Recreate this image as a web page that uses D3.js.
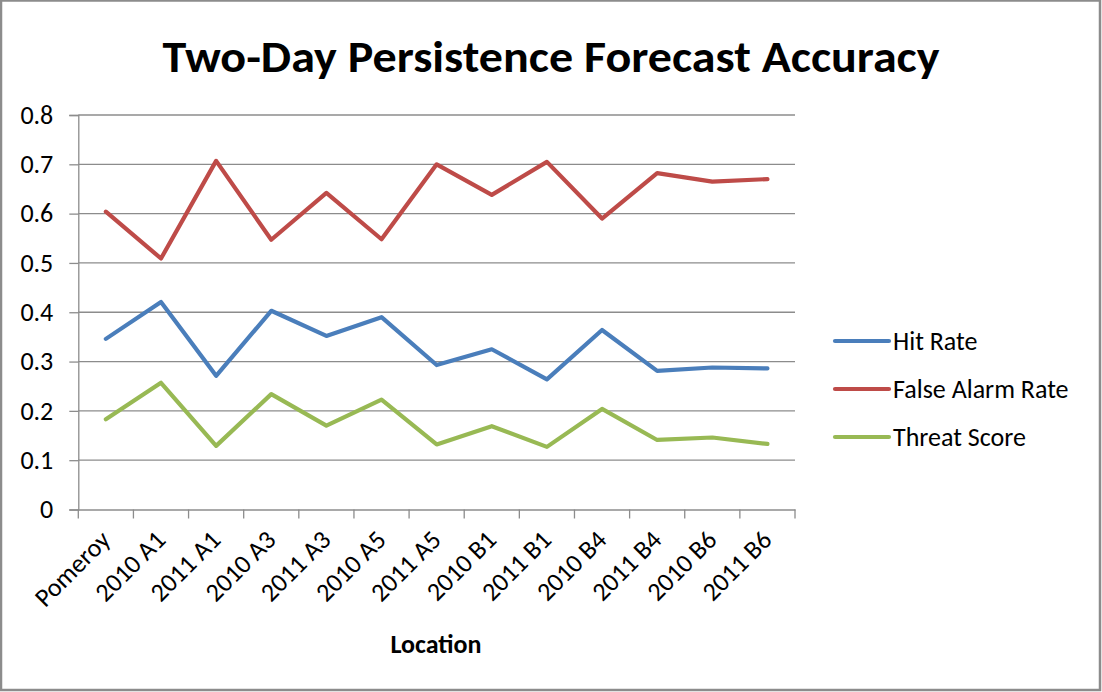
<!DOCTYPE html>
<html><head><meta charset="utf-8">
<script src="https://cdn.jsdelivr.net/npm/d3@7"></script>
<style>
body{margin:0;background:#fff;}
svg{display:block;font-family:Carlito,Calibri,"Open Sans",sans-serif;}
</style></head>
<body>
<svg id="c" width="1102" height="692"></svg>
<script>
const categories = ["Pomeroy","2010 A1","2011 A1","2010 A3","2011 A3","2010 A5","2011 A5","2010 B1","2011 B1","2010 B4","2011 B4","2010 B6","2011 B6"];
const hitRate = [0.346,0.421,0.271,0.403,0.352,0.390,0.293,0.325,0.264,0.364,0.281,0.288,0.286];
const falseAlarmRate = [0.604,0.509,0.707,0.547,0.642,0.548,0.700,0.638,0.705,0.590,0.682,0.665,0.670];
const threatScore = [0.183,0.257,0.129,0.234,0.170,0.223,0.132,0.169,0.127,0.204,0.141,0.146,0.133];
const yTicks = [0,0.1,0.2,0.3,0.4,0.5,0.6,0.7,0.8];
const seriesNames = ["Hit Rate","False Alarm Rate","Threat Score"];
const colors = ["#4A7EBB","#BE4B48","#98B954"];
const series = [hitRate, falseAlarmRate, threatScore];

const svg = d3.select("#c");
const FS = 26;
// outer border
svg.append("rect").attr("x",1).attr("y",0.5).attr("width",1099).attr("height",689.5)
  .attr("fill","#fff").attr("stroke","#8c8c8c").attr("stroke-width",2.5);

const pLeft=78.3, pRight=795, pTop=115, pBottom=509.5;
const x = d3.scaleBand().domain(categories).range([pLeft,pRight]);
const y = d3.scaleLinear().domain([0,0.8]).range([pBottom,pTop]);

// gridlines
svg.append("g").selectAll("line").data(yTicks.filter(d=>d>0)).join("line")
  .attr("x1",pLeft).attr("x2",pRight).attr("y1",d=>y(d)).attr("y2",d=>y(d))
  .attr("stroke","#8c8c8c").attr("stroke-width",1.3);

// y axis
const yAxis = svg.append("g").attr("transform",`translate(${pLeft},0)`)
  .call(d3.axisLeft(y).tickValues(yTicks).tickFormat(d=>d===0?"0":d3.format(".1f")(d)).tickSize(9).tickPadding(16));
yAxis.select(".domain").attr("stroke","#8c8c8c").attr("stroke-width",1.3);
yAxis.selectAll(".tick line").attr("stroke","#8c8c8c").attr("stroke-width",1.3);
yAxis.selectAll("text").attr("font-size",FS).attr("fill","#000").style("font-family","Carlito,Calibri,'Open Sans',sans-serif");

// x axis
const xAxis = svg.append("g").attr("transform",`translate(0,${pBottom})`)
  .call(d3.axisBottom(x).tickSize(0).tickFormat(""));
xAxis.select(".domain").attr("stroke","#8c8c8c").attr("stroke-width",1.3);
// band-boundary ticks
const bounds = categories.map(c=>x(c)).concat([pRight]);
svg.append("g").selectAll("line").data(bounds).join("line")
  .attr("x1",d=>d).attr("x2",d=>d).attr("y1",pBottom).attr("y2",pBottom+9)
  .attr("stroke","#8c8c8c").attr("stroke-width",1.3);
// rotated labels
svg.append("g").selectAll("text").data(categories).join("text")
  .attr("transform",d=>`translate(${x(d)+x.bandwidth()/2+6},${pBottom+32}) rotate(-45)`)
  .attr("text-anchor","end")
  .attr("font-size",FS).attr("fill","#000").text(d=>d);

// lines
const line = d3.line().x((d,i)=>x(categories[i])+x.bandwidth()/2).y(d=>y(d));
svg.append("g").selectAll("path").data(series).join("path")
  .attr("d",d=>line(d)).attr("fill","none")
  .attr("stroke",(d,i)=>colors[i]).attr("stroke-width",4.2)
  .attr("stroke-linejoin","round").attr("stroke-linecap","round");

// title
svg.append("text").attr("x",551).attr("y",72).attr("text-anchor","middle")
  .attr("font-size",44).attr("font-weight","bold").attr("fill","#000")
  .attr("textLength",777).attr("lengthAdjust","spacingAndGlyphs")
  .text("Two-Day Persistence Forecast Accuracy");

// x title
svg.append("text").attr("x",436).attr("y",653).attr("text-anchor","middle")
  .attr("font-size",FS).attr("font-weight","bold").attr("fill","#000").text("Location");

// legend
const lg = svg.append("g").selectAll("g").data(seriesNames).join("g")
  .attr("transform",(d,i)=>`translate(835,${341+i*48})`);
lg.append("line").attr("x1",0).attr("x2",54).attr("stroke",(d,i)=>colors[i])
  .attr("stroke-width",4.2).attr("stroke-linecap","round");
lg.append("text").attr("x",58).attr("dy","0.35em").attr("font-size",FS).attr("fill","#000").text(d=>d);
</script>
</body></html>
